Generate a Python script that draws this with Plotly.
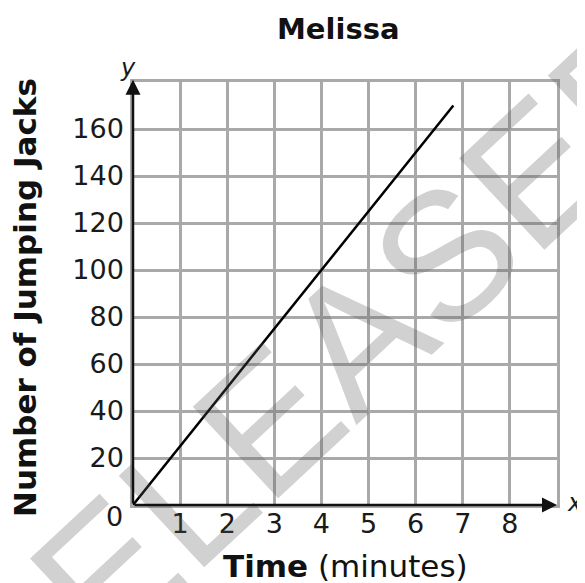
import plotly.graph_objects as go

# Data
time_minutes = [0, 6.8]
jumping_jacks = [0, 170]
x_ticks = [1, 2, 3, 4, 5, 6, 7, 8]
y_ticks = [20, 40, 60, 80, 100, 120, 140, 160]
title_text = "Melissa"
x_title = "<b>Time</b> (minutes)"
y_title = "<b>Number of Jumping Jacks</b>"

FONT = "DejaVu Sans"
GRID = "#a9a9a9"

fig = go.Figure()
fig.add_trace(go.Scatter(x=time_minutes, y=jumping_jacks, mode="lines",
                         line=dict(color="black", width=2.5), showlegend=False,
                         hoverinfo="skip"))

# page body has an 8px margin -> figure is 8px smaller and shifted
fig.update_layout(
    width=577, height=575,
    margin=dict(l=125, r=28, t=74, b=78),
    paper_bgcolor="white", plot_bgcolor="white",
    font=dict(family=FONT, color="#1a1a1a"),
    xaxis=dict(range=[0, 9], tickvals=x_ticks, ticktext=[str(v) for v in x_ticks],
               showgrid=True, gridcolor=GRID, gridwidth=2.5,
               zeroline=False, showline=True, mirror=True, linecolor=GRID, linewidth=2.5,
               ticks="", tickfont=dict(size=27, family=FONT, color="#1a1a1a"),
               ticklabelstandoff=-7, fixedrange=True),
    yaxis=dict(range=[0, 180], tickvals=y_ticks, ticktext=[str(v) for v in y_ticks],
               showgrid=True, gridcolor=GRID, gridwidth=2.5,
               zeroline=False, showline=True, mirror=True, linecolor=GRID, linewidth=2.5,
               ticks="", tickfont=dict(size=27, family=FONT, color="#1a1a1a"),
               ticklabelstandoff=1, fixedrange=True),
)

W, H = 424, 423  # plot area size in px
def px(x, y):
    # convert reference pixel position to paper coords of the plot area
    return (x - 133) / W, (505 - y) / H

wx, wy = px(320, 373)
tx, ty = px(338, 29)
xx, xy = px(345, 566)
yx, yy = px(25, 298)

annotations = [
    # watermark
    dict(text="RELEASED", xref="paper", yref="paper", x=wx, y=wy,
         showarrow=False, textangle=-43,
         font=dict(family="Liberation Sans", size=182, color="rgba(90,90,90,0.28)"),
         xanchor="center", yanchor="middle"),
    # axes arrows
    dict(x=9, y=0, ax=0, ay=0, xref="x", yref="y", axref="x", ayref="y", text="",
         showarrow=True, arrowhead=2, arrowsize=1.2, arrowwidth=2.5, arrowcolor="#111"),
    dict(x=0, y=181, ax=0, ay=0, xref="x", yref="y", axref="x", ayref="y", text="",
         showarrow=True, arrowhead=2, arrowsize=1.2, arrowwidth=2.5, arrowcolor="#111"),
    # axis letters
    dict(text="<i>y</i>", x=0, y=180, xref="x", yref="y", yshift=14, xshift=-5, showarrow=False,
         font=dict(family=FONT, size=24, color="#1a1a1a")),
    dict(text="<i>x</i>", x=9, y=0, xref="x", yref="y", xshift=18, yshift=2, showarrow=False,
         font=dict(family=FONT, size=24, color="#1a1a1a")),
    dict(text="0", x=0, y=0, xref="x", yref="y", xshift=-19, yshift=-11, showarrow=False,
         font=dict(family=FONT, size=27, color="#1a1a1a")),
    # titles
    dict(text="<b>" + title_text + "</b>", xref="paper", yref="paper",
         x=tx, y=ty, showarrow=False,
         font=dict(family=FONT, size=29, color="#111"), xanchor="center", yanchor="middle"),
    dict(text=x_title, xref="paper", yref="paper",
         x=xx, y=xy, showarrow=False,
         font=dict(family=FONT, size=31, color="#111"), xanchor="center", yanchor="middle"),
    dict(text=y_title, xref="paper", yref="paper", textangle=-90,
         x=yx, y=yy, showarrow=False,
         font=dict(family=FONT, size=31, color="#111"), xanchor="center", yanchor="middle"),
]
fig.update_layout(annotations=annotations)

fig.write_html("out.html")
